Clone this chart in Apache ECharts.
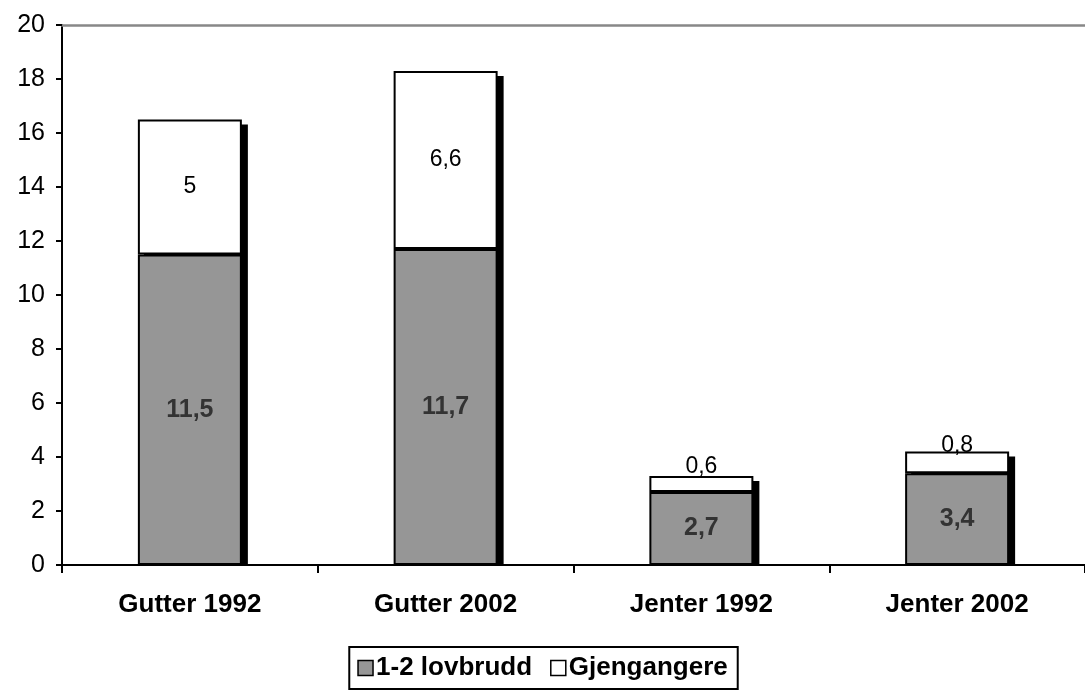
<!DOCTYPE html>
<html>
<head>
<meta charset="utf-8">
<script src="https://cdn.jsdelivr.net/npm/echarts@6/dist/echarts.min.js"></script>
<style>
  html, body { margin: 0; padding: 0; background: #fff; }
  #chart { width: 1085px; height: 693px; }
</style>
</head>
<body>
<div id="chart"></div>
<script>
// data
var categories = ['Gutter 1992', 'Gutter 2002', 'Jenter 1992', 'Jenter 2002']
var lovbrudd = [11.5, 11.7, 2.7, 3.4]
var gjengangere = [5, 6.6, 0.6, 0.8]
var seriesNames = ['1-2 lovbrudd', 'Gjengangere']

var FONT = '"Liberation Sans", Arial, sans-serif'
var BAR_W = 104

function komma(p) {
  return String(p.value).replace('.', ',')
}

// totals for the black drop shadow behind each stack
var totals = categories.map(function (c, i) {
  return [i, lovbrudd[i] + gjengangere[i]]
})

var chart = echarts.init(document.getElementById('chart'))
chart.setOption({
  backgroundColor: '#fff',
  animation: false,
  textStyle: { fontFamily: FONT },
  grid: { left: 62, right: 0, top: 25, bottom: 128 },
  legend: {
    bottom: 4,
    left: 'center',
    data: seriesNames,
    icon: 'rect',
    itemWidth: 15,
    itemHeight: 15,
    itemGap: 18,
    padding: [8, 10, 8, 8],
    borderColor: '#000',
    borderWidth: 2,
    itemStyle: { borderColor: '#000', borderWidth: 1.5 },
    textStyle: { fontFamily: FONT, fontSize: 26, fontWeight: 'bold', color: '#000', padding: [0, 0, 0, -2] }
  },
  xAxis: [{
    type: 'category',
    data: categories,
    axisLine: { lineStyle: { color: '#000', width: 2 } },
    axisTick: { show: true, length: 8, lineStyle: { color: '#000', width: 2 } },
    axisLabel: { margin: 27, fontFamily: FONT, fontSize: 26, fontWeight: 'bold', color: '#000' }
  }, {
    type: 'category',
    data: categories,
    position: 'top',
    axisLine: { lineStyle: { color: '#888', width: 2.5 } },
    axisTick: { show: false },
    axisLabel: { show: false }
  }],
  yAxis: {
    type: 'value',
    min: 0,
    max: 20,
    interval: 2,
    splitLine: { show: false },
    axisLine: { show: true, lineStyle: { color: '#000', width: 2 } },
    axisTick: { show: true, length: 6, lineStyle: { color: '#000', width: 2 } },
    axisLabel: { margin: 17, fontFamily: FONT, fontSize: 25, color: '#000' }
  },
  series: [{
    type: 'custom',
    name: 'skygge',
    z: 1,
    silent: true,
    data: totals,
    renderItem: function (params, api) {
      var top = api.coord([api.value(0), api.value(1)])
      var base = api.coord([api.value(0), 0])
      return {
        type: 'rect',
        shape: { x: top[0] - BAR_W / 2 + 6, y: top[1] + 5, width: BAR_W, height: base[1] - top[1] - 5 },
        style: { fill: '#000' }
      }
    }
  }, {
    type: 'bar',
    name: seriesNames[0],
    stack: 'tot',
    z: 3,
    barWidth: BAR_W,
    data: lovbrudd,
    itemStyle: { color: '#969696', borderColor: '#000', borderWidth: 2 },
    label: {
      show: true,
      position: 'inside',
      formatter: komma,
      fontFamily: FONT,
      fontSize: 25,
      fontWeight: 'bold',
      color: '#333'
    }
  }, {
    type: 'bar',
    name: seriesNames[1],
    stack: 'tot',
    z: 2,
    barWidth: BAR_W,
    data: gjengangere.map(function (v) {
      return v < 1 ? { value: v, label: { offset: [0, -17] } } : v
    }),
    itemStyle: { color: '#fff', borderColor: '#000', borderWidth: 2 },
    label: {
      show: true,
      position: 'inside',
      formatter: komma,
      fontFamily: FONT,
      fontSize: 23,
      color: '#000'
    }
  }]
})
</script>
</body>
</html>
